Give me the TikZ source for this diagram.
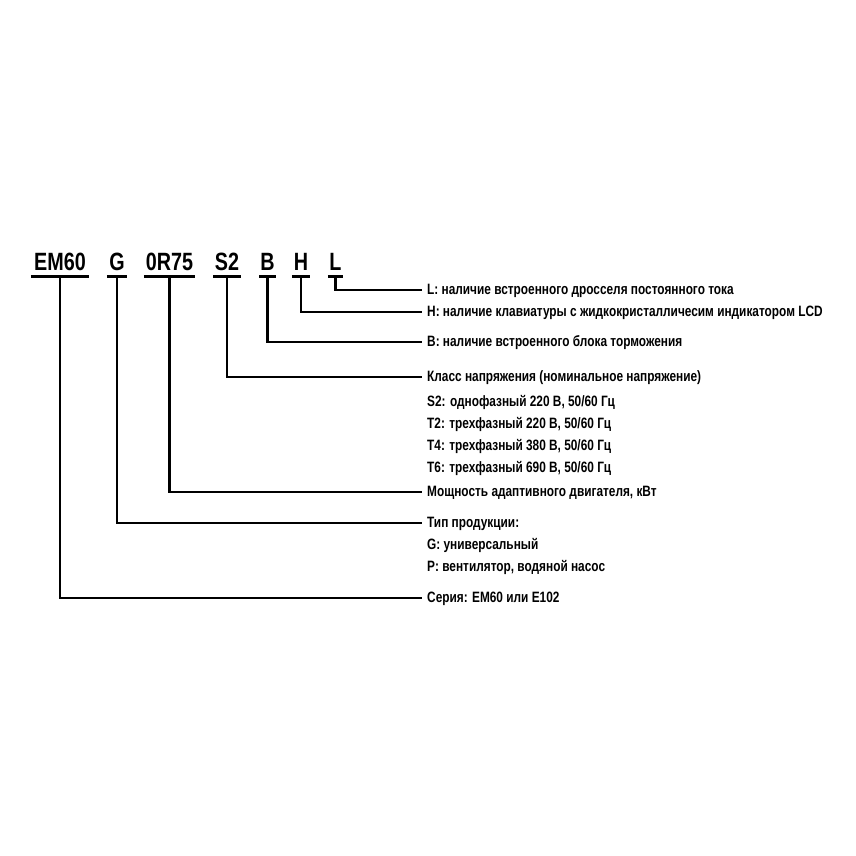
\documentclass[tikz,border=0pt]{standalone}
\usepackage{fontspec}
\newfontfamily\cond{Liberation Sans Bold}[FakeStretch=0.79]
\begin{document}
\begin{tikzpicture}[x=1pt,y=-1pt]
\tikzset{
  code/.style={font=\cond\fontsize{25}{30}\selectfont, inner sep=0pt, text height=18pt, text depth=6pt, anchor=base},
  desc/.style={font=\cond\fontsize{15}{18}\selectfont, inner sep=0pt, text height=11pt, text depth=3pt, anchor=base west},
  uline/.style={line width=2.8pt},
  link/.style={line width=2.6pt, line join=miter},
}
\fill[white] (0,0) rectangle (856,856);
\path[use as bounding box] (0,0) rectangle (856,856);
% codes
\node[code, minimum width=58pt] (cEM) at (60,270) {EM60};
\node[code, minimum width=20pt] (cG) at (117,270) {G};
\node[code, minimum width=51pt] (cR) at (169.5,270) {0R75};
\node[code, minimum width=27pt] (cS) at (227,270) {S2};
\node[code, minimum width=16pt] (cB) at (267.5,270) {B};
\node[code, minimum width=18pt] (cH) at (301,270) {H};
\node[code, minimum width=15pt] (cL) at (335.5,270) {L};
\foreach \c in {cEM,cG,cR,cS,cB,cH,cL}{\draw[uline] (\c.south west) -- (\c.south east);}
% descriptions
\node[desc] (dL) at (427,294) {L: наличие встроенного дросселя постоянного тока};
\node[desc] (dH) at (427,316) {H: наличие клавиатуры с жидкокристалличесим индикатором LCD};
\node[desc] (dB) at (427,346) {B: наличие встроенного блока торможения};
\node[desc] (dS) at (427,381) {Класс напряжения (номинальное напряжение)};
\node[desc] (dS1) at (427,406) {S2: однофазный 220 В, 50/60 Гц};
\node[desc] (dS2) at (427,428.3) {T2: трехфазный 220 В, 50/60 Гц};
\node[desc] (dS3) at (427,450.7) {T4: трехфазный 380 В, 50/60 Гц};
\node[desc] (dS4) at (427,472.7) {T6: трехфазный 690 В, 50/60 Гц};
\node[desc] (dR) at (427,496) {Мощность адаптивного двигателя, кВт};
\node[desc] (dG) at (427,527) {Тип продукции:};
\node[desc] (dG1) at (427,549.3) {G: универсальный};
\node[desc] (dG2) at (427,571) {P: вентилятор, водяной насос};
\node[desc] (dEM) at (427,602) {Серия: EM60 или E102};
% connectors
\draw[link] (cL.south) |- ([xshift=-5pt]dL.west);
\draw[link] (cH.south) |- ([xshift=-5pt]dH.west);
\draw[link] (cB.south) |- ([xshift=-5pt]dB.west);
\draw[link] (cS.south) |- ([xshift=-5pt]dS.west);
\draw[link] (cR.south) |- ([xshift=-5pt]dR.west);
\draw[link] (cG.south) |- ([xshift=-5pt]dG.west);
\draw[link] (cEM.south) |- ([xshift=-5pt]dEM.west);
\end{tikzpicture}
\end{document}
